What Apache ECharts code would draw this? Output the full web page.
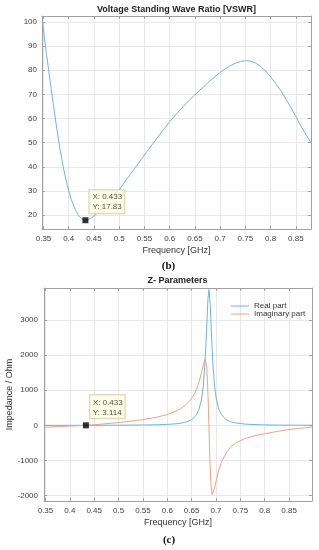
<!DOCTYPE html>
<html><head><meta charset="utf-8">
<script src="https://cdn.jsdelivr.net/npm/echarts@6/dist/echarts.min.js"></script>
<style>html,body{margin:0;padding:0;background:#fff}#c{width:319px;height:550px}</style>
</head><body><div id="c"></div>
<script>
// ---- data ----
const vswrFreq  = [0.348,0.352,0.356,0.360,0.365,0.370,0.375,0.380,0.385,0.390,0.395,0.400,0.405,0.410,0.415,0.420,0.425,0.430,0.433,0.437,0.440,0.445,0.450,0.455,0.460,0.465,0.470,0.475,0.480,0.490,0.500,0.520,0.540,0.560,0.580,0.600,0.620,0.640,0.660,0.680,0.700,0.710,0.720,0.730,0.740,0.750,0.760,0.770,0.780,0.790,0.800,0.810,0.820,0.830,0.840,0.850,0.860,0.870,0.880];
const vswrValue = [100.5,93.0,86.5,80.5,72.5,65.0,57.8,50.8,44.5,39.0,34.2,30.0,26.5,23.7,21.4,19.7,18.6,17.95,17.83,17.95,18.2,18.8,19.6,20.5,21.5,22.6,23.8,25.0,26.3,28.5,30.5,36.3,42.0,47.7,53.3,58.7,63.5,67.8,71.8,75.6,79.1,80.6,81.9,82.9,83.6,84.0,83.8,83.0,81.6,79.7,77.3,74.6,71.6,68.2,64.6,60.8,56.9,53.3,50.0];

const zFreq = [0.350,0.380,0.400,0.433,0.450,0.500,0.550,0.580,0.600,0.620,0.630,0.640,0.650,0.655,0.660,0.665,0.670,0.674,0.6775,0.681,0.6835,0.6855,0.688,0.690,0.692,0.694,0.697,0.700,0.705,0.710,0.720,0.730,0.740,0.760,0.780,0.800,0.830,0.860,0.897];
const zReal = [2,2,3,3,4,6,12,20,30,50,70,103,165,220,306,453,726,1147,1797,2830,3603,3860,3468,2828,2192,1678,1145,804,491,327,172,105,71,38,24,16,10,7,5];
const zImag = [-50,-32,-18,3.114,20,80,165,240,310,420,500,610,770,885,1030,1225,1485,1735,1886,1670,925,-42,-1206,-1748,-1971,-1900,-1790,-1590,-1300,-1085,-800,-620,-505,-370,-290,-235,-160,-100,-46];

const seriesNames = ['Real part','Imaginary part'];
const vswrTip = [0.433, 17.83];
const zTip = [0.433, 3.114];

const xTickVals = [0.35,0.4,0.45,0.5,0.55,0.6,0.65,0.7,0.75,0.8,0.85];
const xTickLabels = ['0.35','0.4','0.45','0.5','0.55','0.6','0.65','0.7','0.75','0.8','0.85'];
const vswrTickVals = [20,30,40,50,60,70,80,90,100];
const vswrTickLabels = ['20','30','40','50','60','70','80','90','100'];
const zTickVals = [-2000,-1000,0,1000,2000,3000];
const zTickLabels = ['-2000','-1000','0','1000','2000','3000'];

// ---- chart ----
const FONT = 'Liberation Sans, Arial, Helvetica, sans-serif';
const AX = '#a0a0a0';
const GRIDC = '#e8e8e8';
const BLUE = '#6fb3e6';
const ORANGE = '#f0a283';

function fmt(vals, labels, eps) {
  return function (v) {
    for (let i = 0; i < vals.length; i++) if (Math.abs(v - vals[i]) < eps) return labels[i];
    return '';
  };
}
function mainX(gi, min, max, nameGap) {
  return {gridIndex: gi, type: 'value', min: min, max: max, splitNumber: 11, position: 'bottom',
    axisLine: {show: true, onZero: false, lineStyle: {color: AX, width: 1}},
    axisTick: {show: true, inside: true, length: 3, lineStyle: {color: AX}},
    axisLabel: {fontSize: 8, color: '#3c3c3c', margin: 6, fontFamily: FONT, formatter: fmt(xTickVals, xTickLabels, 1e-6)},
    splitLine: {show: true, lineStyle: {color: GRIDC, width: 1}},
    name: 'Frequency [GHz]', nameLocation: 'middle', nameGap: nameGap, nameMoveOverlap: false,
    nameTextStyle: {fontSize: 9, color: '#333', fontFamily: FONT}};
}
function boxX(gi, min, max) {
  return {gridIndex: gi, type: 'value', min: min, max: max, splitNumber: 11, position: 'top',
    axisLine: {show: true, onZero: false, lineStyle: {color: AX, width: 1}},
    axisTick: {show: true, inside: true, length: 3, lineStyle: {color: AX}},
    axisLabel: {show: false}, splitLine: {show: false}};
}
function mainY(gi, min, max, split, vals, labels, margin, extra) {
  return Object.assign({gridIndex: gi, type: 'value', min: min, max: max, splitNumber: split, position: 'left',
    axisLine: {show: true, onZero: false, lineStyle: {color: AX, width: 1}},
    axisTick: {show: true, inside: true, length: 3, lineStyle: {color: AX}},
    axisLabel: {fontSize: 8, color: '#3c3c3c', margin: margin, fontFamily: FONT, formatter: fmt(vals, labels, 1e-3)},
    splitLine: {show: true, lineStyle: {color: GRIDC, width: 1}}}, extra || {});
}
function boxY(gi, min, max, split) {
  return {gridIndex: gi, type: 'value', min: min, max: max, splitNumber: split, position: 'right',
    axisLine: {show: true, onZero: false, lineStyle: {color: AX, width: 1}},
    axisTick: {show: true, inside: true, length: 3, lineStyle: {color: AX}},
    axisLabel: {show: false}, splitLine: {show: false}};
}

const tipLabel = {
  show: true, position: [7, -27], fontSize: 8, lineHeight: 10, color: '#222', fontFamily: FONT,
  backgroundColor: '#ffffe1', borderColor: '#c9c9a6', borderWidth: 1, padding: [2, 2, 1, 3]
};

const option = {
  backgroundColor: '#fff',
  animation: false,
  textStyle: {fontFamily: FONT},
  grid: [
    {left: 42, top: 16, width: 269, height: 213, containLabel: false, outerBoundsMode: 'none'},
    {left: 44, top: 288, width: 268, height: 213, containLabel: false, outerBoundsMode: 'none'}
  ],
  xAxis: [
    mainX(0, 0.347, 0.88, 17),
    boxX(0, 0.347, 0.88),
    mainX(1, 0.347, 0.897, 17),
    boxX(1, 0.347, 0.897)
  ],
  yAxis: [
    mainY(0, 14.2, 102.5, 9, vswrTickVals, vswrTickLabels, 5),
    boxY(0, 14.2, 102.5, 9),
    mainY(1, -2150, 3910, 6, zTickVals, zTickLabels, 6,
      {name: 'Impedance / Ohm', nameLocation: 'middle', nameRotate: 90, nameGap: 30, nameMoveOverlap: false,
       nameTextStyle: {fontSize: 9, color: '#333', fontFamily: FONT}}),
    boxY(1, -2150, 3910, 6)
  ],
  legend: {
    left: 231, top: 302, orient: 'vertical', padding: 0, itemGap: 0,
    itemWidth: 18, itemHeight: 1, icon: 'rect',
    textStyle: {fontSize: 8, color: '#333', fontFamily: FONT},
    data: seriesNames
  },
  series: [
    {type: 'line', xAxisIndex: 0, yAxisIndex: 0, symbol: 'none',
     lineStyle: {color: BLUE, width: 1}, itemStyle: {color: BLUE},
     data: vswrFreq.map((f, i) => [f, vswrValue[i]])},
    {type: 'scatter', xAxisIndex: 0, yAxisIndex: 0, symbol: 'rect', symbolSize: 6, z: 10,
     itemStyle: {color: '#000'}, label: Object.assign({}, tipLabel, {formatter: 'X: ' + vswrTip[0] + '\nY: ' + vswrTip[1]}),
     data: [vswrTip]},
    {name: seriesNames[0], type: 'line', xAxisIndex: 2, yAxisIndex: 2, symbol: 'none',
     lineStyle: {color: BLUE, width: 1}, itemStyle: {color: BLUE},
     data: zFreq.map((f, i) => [f, zReal[i]])},
    {name: seriesNames[1], type: 'line', xAxisIndex: 2, yAxisIndex: 2, symbol: 'none',
     lineStyle: {color: ORANGE, width: 1}, itemStyle: {color: ORANGE},
     data: zFreq.map((f, i) => [f, zImag[i]])},
    {type: 'scatter', xAxisIndex: 2, yAxisIndex: 2, symbol: 'rect', symbolSize: 6, z: 10,
     itemStyle: {color: '#000'}, label: Object.assign({}, tipLabel, {formatter: 'X: ' + zTip[0] + '\nY: ' + zTip[1]}),
     data: [zTip]}
  ],
  graphic: [
    {type: 'text', x: 176.5, y: 10, style: {text: 'Voltage Standing Wave Ratio [VSWR]', fill: '#222', font: 'bold 9px ' + FONT, textAlign: 'center', textVerticalAlign: 'middle', verticalAlign: 'middle'}},
    {type: 'text', x: 168.5, y: 266, style: {text: '(b)', fill: '#111', font: 'bold 11px Liberation Serif, Times New Roman, serif', textAlign: 'center', textVerticalAlign: 'middle', verticalAlign: 'middle'}},
    {type: 'text', x: 177.5, y: 280.5, style: {text: 'Z- Parameters', fill: '#222', font: 'bold 9px ' + FONT, textAlign: 'center', textVerticalAlign: 'middle', verticalAlign: 'middle'}},
    {type: 'text', x: 169, y: 540, style: {text: '(c)', fill: '#111', font: 'bold 11px Liberation Serif, Times New Roman, serif', textAlign: 'center', textVerticalAlign: 'middle', verticalAlign: 'middle'}}
  ]
};
const chart = echarts.init(document.getElementById('c'), null, {renderer: 'canvas'});
chart.setOption(option);
</script>
</body></html>
